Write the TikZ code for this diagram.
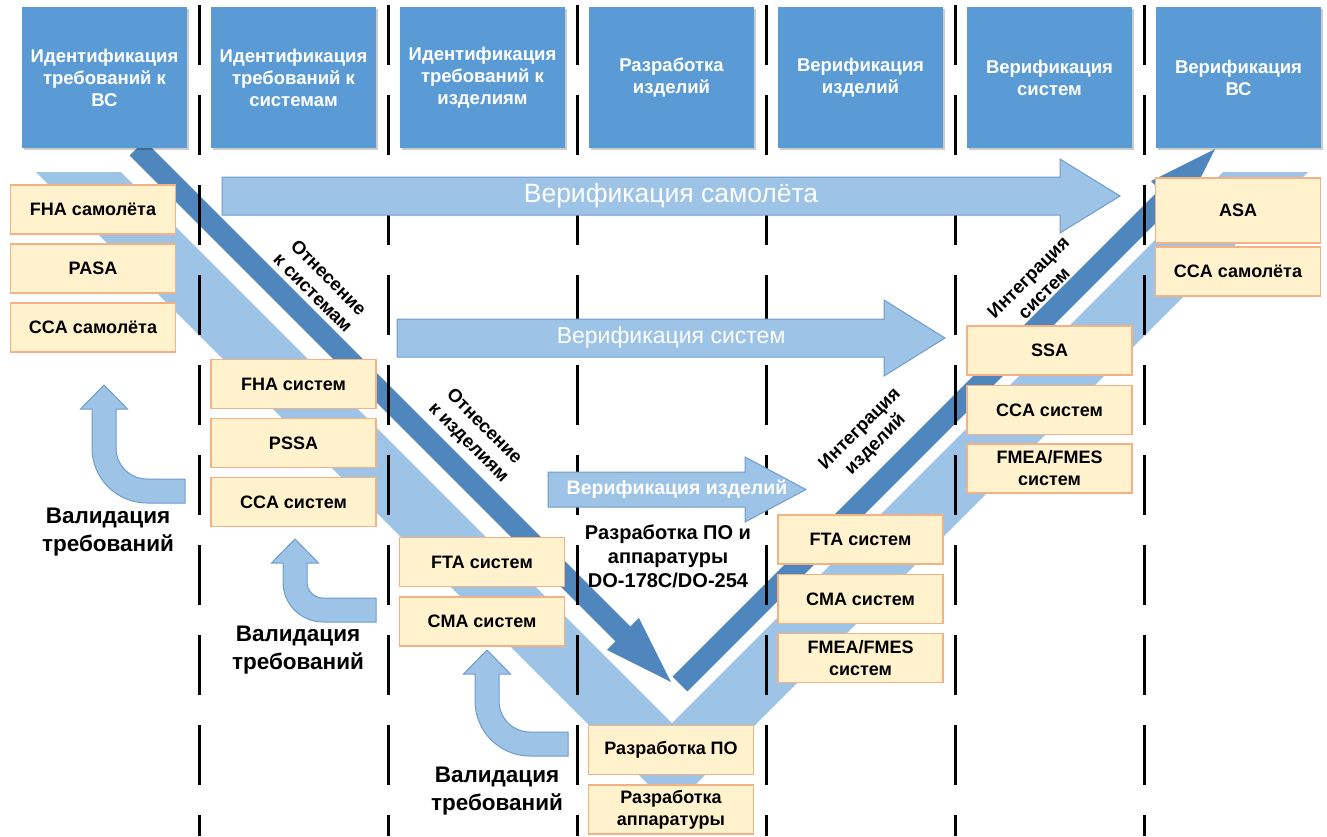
\documentclass[tikz,border=0pt]{standalone}
\usepackage{fontspec}
\setmainfont{Liberation Sans}
\usetikzlibrary{shadows}
\definecolor{HdrBlue}{HTML}{5B9BD5}
\definecolor{BandBlue}{HTML}{9DC3E6}
\definecolor{SteelBlue}{HTML}{4F86BE}
\definecolor{ArrEdge}{HTML}{6E9CCF}
\definecolor{BoxCream}{HTML}{FFF2CC}
\definecolor{BoxOrange}{HTML}{F4B183}
\tikzset{
    hdr/.style = {fill=HdrBlue, text=white, minimum width=165, minimum height=141,
        align=center, inner sep=0pt,
        font=\fontsize{18.5}{22}\selectfont\bfseries,
        drop shadow={shadow xshift=1.5pt, shadow yshift=-1.5pt, opacity=.2, fill=black}},
    hazbox/.style = {draw=BoxOrange, fill=BoxCream, line width=1.5pt,
        minimum width=165, minimum height=49, align=center, inner sep=0pt,
        font=\fontsize{18}{22}\selectfont\bfseries},
    harrow/.style = {fill=BandBlue, draw=ArrEdge, line width=1pt},
    sepline/.style = {line width=3pt, dash pattern=on 60pt off 30pt},
    vlabel/.style = {align=center, font=\fontsize{22.5}{28}\selectfont\bfseries},
    rlabel/.style = {align=center, font=\fontsize{18.5}{22}\selectfont\bfseries}
}
% bent-up arrow: tip x, tip y, bottom y, outer radius
\newcommand{\valarrow}[4]{%
    \pgfmathsetmacro{\vaHb}{#2+24}
    \pgfmathsetmacro{\vaCx}{#1-12+#4}
    \pgfmathsetmacro{\vaCy}{#3-#4}
    \pgfmathsetmacro{\vaRi}{#4-24}
    \draw[harrow] (#1,#2) -- ({#1+23.5},\vaHb) -- ({#1+12},\vaHb) -- ({#1+12},\vaCy)
        .. controls ({#1+12},{\vaCy+0.552*\vaRi}) and ({\vaCx-0.552*\vaRi},{\vaCy+\vaRi}) .. (\vaCx,{\vaCy+\vaRi})
        -- ({#1+81},{\vaCy+\vaRi}) -- ({#1+81},#3) -- (\vaCx,#3)
        .. controls ({\vaCx-0.552*#4},#3) and ({#1-12},{\vaCy+0.552*#4}) .. ({#1-12},\vaCy)
        -- ({#1-12},\vaHb) -- ({#1-23.5},\vaHb) -- cycle;
}
\begin{document}
\begin{tikzpicture}[x=1pt, y=-1pt]
    \useasboundingbox (0,0) rectangle (1327,836);
    % V band
    \fill[BandBlue] (36,172) -- (121,172) -- (672,723) -- (1223,172) -- (1308,172) -- (672,808) -- cycle;
    % decomposition / integration arrows
    \fill[SteelBlue] (144.4,140.6) -- (630.3,626.5) -- (638.9,617.9) -- (671,682) -- (606.9,649.9) -- (615.5,641.3) -- (129.6,155.4) -- cycle;
    \fill[SteelBlue] (672.6,676.6) -- (1159.5,189.7) -- (1150.9,181.1) -- (1215,149) -- (1182.9,213.1) -- (1174.3,204.5) -- (687.4,691.4) -- cycle;
    % phase separators
    \foreach \lx in {199,388,577,766,955,1144}{
        \draw[sepline] (\lx,5) -- (\lx,836);
    }
    % phases
    \foreach \i/\txt in {0/{Идентификация\\требований к\\ВС},
                         1/{Идентификация\\требований к\\системам},
                         2/{Идентификация\\требований к\\изделиям},
                         3/{Разработка\\изделий},
                         4/{Верификация\\изделий},
                         5/{Верификация\\систем},
                         6/{Верификация\\ВС}}{
        \node[hdr] (hdr\i) at ({104.5+189*\i},77.5) {\txt};
    }
    % verification arrows
    \draw[harrow] (222,177) -- (1060,177) -- (1060,159) -- (1120,196) -- (1060,233) -- (1060,215) -- (222,215) -- cycle;
    \node[text=white, font=\fontsize{26.5}{30}\selectfont] (verAc) at (671,196) {Верификация самолёта};
    \draw[harrow] (397,319) -- (884,319) -- (884,300) -- (945,338) -- (884,376) -- (884,357) -- (397,357) -- cycle;
    \node[text=white, font=\fontsize{23}{26}\selectfont] (verSys) at (671,338) {Верификация систем};
    \draw[harrow] (548,472) -- (745,472) -- (745,457) -- (806,489.5) -- (745,522) -- (745,507) -- (548,507) -- cycle;
    \node[text=white, font=\fontsize{19.5}{22}\selectfont\bfseries] (verItem) at (677,489) {Верификация изделий};
    % safety assessment boxes
    \node[hazbox] (fhaAc) at (93,209.5) {FHA самолёта};
    \node[hazbox] (pasa) at (93,268.5) {PASA};
    \node[hazbox] (ccaAc) at (93,327.5) {CCA самолёта};
    \node[hazbox] (fhaSys) at (293.5,384) {FHA систем};
    \node[hazbox] (pssa) at (293.5,443) {PSSA};
    \node[hazbox] (ccaSys) at (293.5,502) {CCA систем};
    \node[hazbox] (ftaSys) at (482,562) {FTA систем};
    \node[hazbox] (cmaSys) at (482,621.5) {CMA систем};
    \node[hazbox] (swDev) at (671,750) {Разработка ПО};
    \node[hazbox] (hwDev) at (671,809.5) {Разработка\\аппаратуры};
    \node[hazbox] (ftaSysR) at (860.5,539.5) {FTA систем};
    \node[hazbox] (cmaSysR) at (860.5,599) {CMA систем};
    \node[hazbox] (fmeaSysR) at (860.5,658) {FMEA/FMES\\систем};
    \node[hazbox] (ssa) at (1049.5,350.5) {SSA};
    \node[hazbox] (ccaSysR) at (1049.5,410) {CCA систем};
    \node[hazbox] (fmeaSys) at (1049.5,468.5) {FMEA/FMES\\систем};
    \node[hazbox, minimum height=65] (asa) at (1238,210.5) {ASA};
    \node[hazbox] (ccaAcR) at (1238,271.5) {CCA самолёта};
    % requirement validation
    \valarrow{104}{385}{503}{55}
    \valarrow{295}{539}{622}{40}
    \valarrow{487}{650}{756}{55}
    \node[vlabel] (val1) at (108,532) {Валидация\\требований};
    \node[vlabel] (val2) at (298,650) {Валидация\\требований};
    \node[vlabel] (val3) at (497,791) {Валидация\\требований};
    % side labels
    \node[rlabel, rotate=-45] (allocSys) at (321,285) {Отнесение\\к системам};
    \node[rlabel, rotate=-45] (allocItem) at (476,435) {Отнесение\\к изделиям};
    \node[rlabel, rotate=45] (intItem) at (868,437) {Интеграция\\изделий};
    \node[rlabel, rotate=45] (intSys) at (1036,285) {Интеграция\\систем};
    \node[align=center, font=\fontsize{20}{24}\selectfont\bfseries] (dev) at (668,556) {Разработка ПО и\\аппаратуры\\DO-178C/DO-254};
\end{tikzpicture}
\end{document}
